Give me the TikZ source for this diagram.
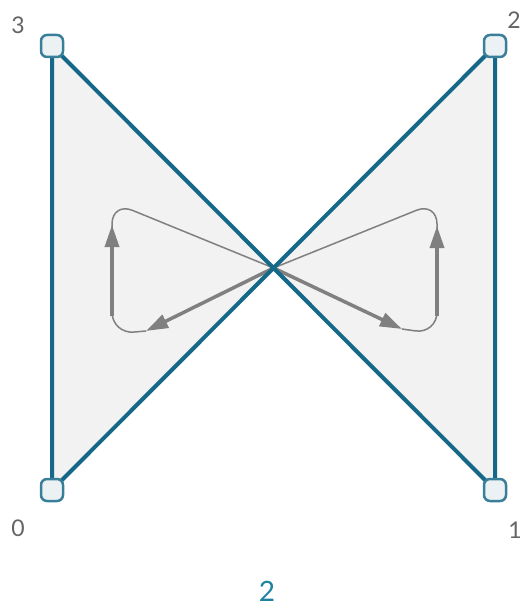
\documentclass[tikz,border=0pt]{standalone}
\usepackage{fontspec}
\setmainfont{Lato}
\usetikzlibrary{arrows.meta}
\definecolor{teal1}{RGB}{22,104,136}
\definecolor{fillg}{RGB}{242,242,242}
\definecolor{arrg}{RGB}{128,128,128}
\definecolor{labg}{RGB}{100,100,100}
\definecolor{vfill}{RGB}{236,242,244}
\definecolor{labt}{RGB}{30,130,160}
\tikzset{
  edge/.style={draw=teal1, line width=4pt, line join=round},
  vert/.style={draw=teal1!85!white, fill=vfill, line width=2.5pt, rounded corners=6pt, minimum size=22pt, inner sep=0pt},
  vlab/.style={text=labg, font=\fontsize{23}{23}\selectfont},
  thinarr/.style={draw=arrg, line width=1.5pt, rounded corners=22pt},
  thickarr/.style={draw=arrg, line width=3.5pt, -{Triangle[length=22pt,width=14pt]}},
}
\begin{document}
\begin{tikzpicture}[x=1pt,y=-1pt]
\useasboundingbox (0,0) rectangle (527,609);
\coordinate (c) at (273.5,268);
\coordinate (p3) at (52,46);
\coordinate (p2) at (495,46);
\coordinate (p0) at (52,490);
\coordinate (p1) at (495,490);
\fill[fillg] (p3) -- (c) -- (p0) -- cycle;
\fill[fillg] (p2) -- (c) -- (p1) -- cycle;
% gray loops
\coordinate (la) at (146,331);
\coordinate (lb) at (112,316);
\coordinate (lt) at (112,225);
\coordinate (ra) at (402,329);
\coordinate (rb) at (437,316);
\coordinate (rt) at (437,226);
\draw[thinarr] (112,260) -- (112,202) -- (c);
\draw[thinarr] (la) -- (112,334) -- (112,280);
\draw[thinarr] (437,260) -- (437,202) -- (c);
\draw[thinarr] (ra) -- (437,334) -- (437,280);
\draw[thickarr] (c) -- (la);
\draw[thickarr] (lb) -- (lt);
\draw[thickarr] (c) -- (ra);
\draw[thickarr] (rb) -- (rt);
% edges
\draw[edge] (p0) -- (p3) -- (p1) -- (p2) -- (p0);
\node[vert] (v3) at (p3) {};
\node[vert] (v2) at (p2) {};
\node[vert] (v0) at (p0) {};
\node[vert] (v1) at (p1) {};
\node[vlab] (l3) at (18,25) {3};
\node[vlab] (l2) at (514,20) {2};
\node[vlab] (l0) at (18,528) {0};
\node[vlab] (l1) at (515,530) {1};
\node[text=labt, font=\fontsize{28}{28}\selectfont] (t) at (267,591) {2};
\end{tikzpicture}
\end{document}
